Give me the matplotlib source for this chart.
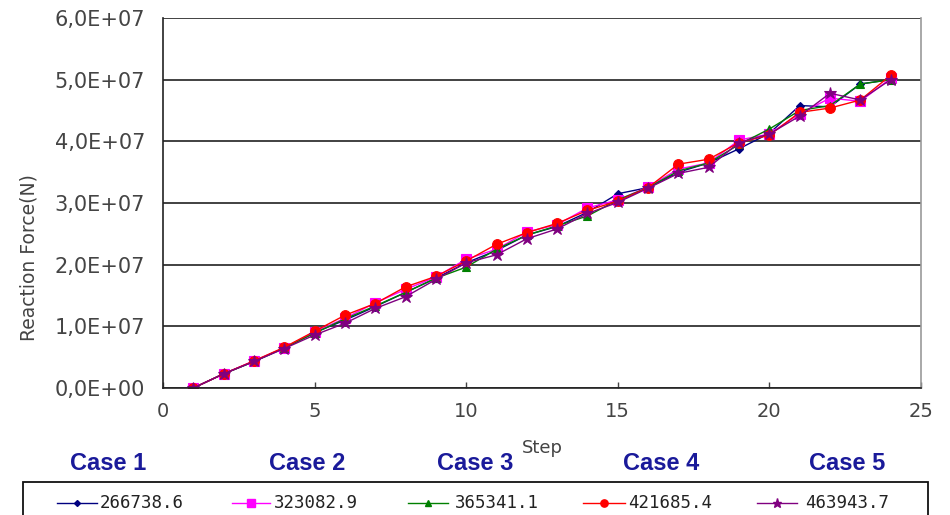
import matplotlib
matplotlib.use("Agg")
import matplotlib.pyplot as plt
from matplotlib.ticker import FuncFormatter, MultipleLocator
from matplotlib.lines import Line2D
from matplotlib.patches import Rectangle

# Load step (1..24) and reaction force values, in units of 1e6 N
steps = list(range(1, 25))
case1 = [0, 2.3, 4.3, 6.5, 9.0, 11.0, 13.2, 15.5, 17.8, 20.3, 22.3, 24.8,
         26.2, 28.5, 31.5, 32.5, 35.0, 36.5, 38.8, 41.3, 45.8, 45.6, 49.3, 50.0]
case2 = [0, 2.3, 4.4, 6.5, 9.1, 11.3, 13.8, 16.0, 18.0, 20.9, 22.5, 25.3,
         26.5, 29.2, 30.5, 32.6, 35.5, 36.5, 40.2, 41.2, 44.5, 47.0, 46.5, 50.2]
case3 = [0, 2.3, 4.3, 6.5, 8.9, 11.2, 13.3, 15.5, 17.8, 19.6, 22.5, 24.8,
         26.3, 27.9, 30.5, 32.5, 35.2, 36.5, 39.5, 42.0, 45.0, 45.8, 49.3, 50.0]
case4 = [0, 2.3, 4.4, 6.6, 9.2, 11.8, 13.7, 16.4, 18.1, 20.6, 23.3, 25.2,
         26.7, 28.8, 30.3, 32.5, 36.3, 37.1, 39.8, 41.0, 44.7, 45.4, 46.7, 50.7]
case5 = [0, 2.3, 4.3, 6.4, 8.6, 10.5, 12.9, 14.8, 17.6, 20.3, 21.6, 24.2,
         25.8, 28.3, 30.1, 32.4, 34.8, 35.8, 39.8, 41.2, 44.1, 47.8, 46.7, 50.0]

case_names = ["Case 1", "Case 2", "Case 3", "Case 4", "Case 5"]
series_labels = ["266738.6", "323082.9", "365341.1", "421685.4", "463943.7"]

series = [case1, case2, case3, case4, case5]
colors = ["#000080", "#FF00FF", "#008000", "#FF0000", "#800080"]
markers = ["D", "s", "^", "o", "*"]
msizes = [4, 7, 6, 7, 9]

W, H = 950, 515
fig = plt.figure(figsize=(W / 100, H / 100), dpi=100)
ax = fig.add_axes([163 / W, 1 - 388 / H, 758 / W, 370 / H])

for vals, c, m, ms in zip(series, colors, markers, msizes):
    ax.plot(steps, [v * 1e6 for v in vals], color=c, marker=m,
            markersize=ms, linewidth=1.0, markeredgewidth=0.8)

ax.set_xlim(0, 25)
ax.set_ylim(0, 6e7)
ax.xaxis.set_major_locator(MultipleLocator(5))
ax.yaxis.set_major_locator(MultipleLocator(1e7))


def sci_comma(v, pos):
    if v == 0:
        return "0,0E+00"
    s = "%.1E" % v
    mant, exp = s.split("E")
    e = int(exp)
    return "%sE%s%02d" % (mant.replace(".", ","), "+" if e >= 0 else "-", abs(e))


ax.yaxis.set_major_formatter(FuncFormatter(sci_comma))
ax.grid(axis="y", color="#333333", linewidth=1.3)
ax.set_axisbelow(True)

font = "DejaVu Sans"
ax.tick_params(axis="x", direction="in", length=4, width=1, pad=10,
               labelsize=14, colors="#444444")
ax.tick_params(axis="y", length=0, pad=13, labelsize=15, colors="#444444")
for lbl in ax.get_xticklabels() + ax.get_yticklabels():
    lbl.set_fontfamily(font)

ax.spines["top"].set_visible(False)
ax.spines["right"].set_color("#999999")
ax.spines["left"].set_color("#222222")
ax.spines["bottom"].set_color("#222222")
for s in ax.spines.values():
    s.set_linewidth(1.2)

fig.text(29 / W, 1 - 258 / H, "Reaction Force(N)", rotation=90,
         ha="center", va="center", fontsize=13.5, family=font, color="#444444")
fig.text(542 / W, 1 - 448 / H, "Step", ha="center", va="center",
         fontsize=13, family=font, color="#444444")

case_x = [108, 307, 475, 661, 847]
for x, name in zip(case_x, case_names):
    fig.text(x / W, 1 - 463 / H, name, ha="center", va="center",
             fontsize=17, fontweight="bold", family="Liberation Sans",
             color="#1a1a9a")

# Legend box, running off the bottom edge
fig.patches.append(Rectangle((23 / W, -0.05), (928 - 23) / W,
                             (1 - 482 / H) + 0.05, transform=fig.transFigure,
                             fill=False, edgecolor="#111111", linewidth=1.3))
leg_line = [(57, 97), (232, 270), (408, 448), (583, 625), (757, 797)]
leg_text = [100, 274, 455, 628, 805]
ly = 1 - 503 / H
for (x0, x1), tx, c, m, ms, lab in zip(leg_line, leg_text, colors, markers,
                                       msizes, series_labels):
    fig.lines.append(Line2D([x0 / W, x1 / W], [ly, ly], color=c,
                            linewidth=1.0, transform=fig.transFigure))
    fig.lines.append(Line2D([(x0 + x1) / 2 / W], [ly], color=c, marker=m,
                            markersize=ms * 0.75, linestyle="none",
                            transform=fig.transFigure))
    fig.text(tx / W, ly, lab, ha="left", va="center", fontsize=12.5,
             family="DejaVu Sans Mono", color="#222222")

fig.savefig("out.png", dpi=100)
